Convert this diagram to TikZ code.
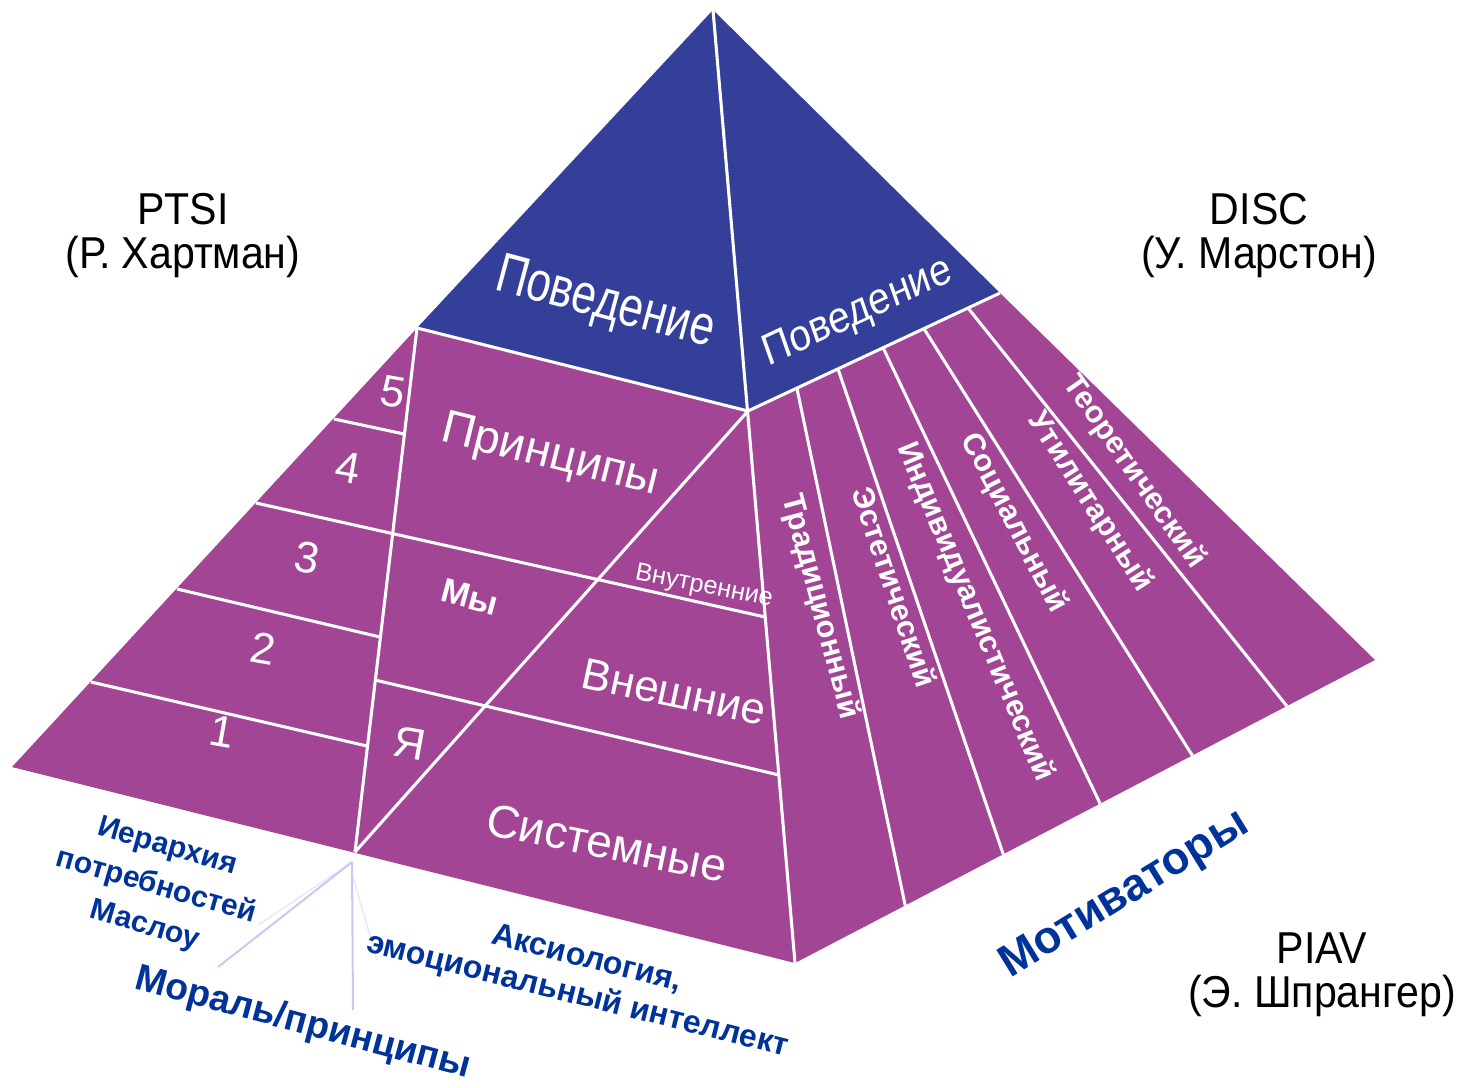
\documentclass[tikz,border=0pt]{standalone}
\usepackage{fontspec}
\setmainfont{Liberation Sans}
\usetikzlibrary{calc}
\definecolor{face}{HTML}{A34595}
\definecolor{topblue}{HTML}{333F99}
\definecolor{ink}{HTML}{003399}
\definecolor{guide}{HTML}{C8C8F2}

\begin{document}
\begin{tikzpicture}[x=0.75pt,y=-0.75pt,
  seam/.style={draw=white, line width=2.3pt},
  wlabel/.style={text=white, inner sep=0pt},
  blabel/.style={text=ink, inner sep=0pt},
  author/.style={inner sep=0pt, align=center, font=\fontsize{33.5}{33}\selectfont, xscale=0.92},
  strip/.style={wlabel, font=\fontsize{23}{23}\selectfont\bfseries},
  digit/.style={wlabel, font=\fontsize{33}{33}\selectfont, rotate=-10},
  guideline/.style={draw=guide, line width=1.5pt},
  faintline/.style={draw=guide!40, line width=1.2pt},
]
\useasboundingbox (0,0) rectangle (1464,1088);

% corners of the pyramid
\coordinate (A)  at (713,10);
\coordinate (P1) at (417,328);
\coordinate (C)  at (748,411);
\coordinate (P2) at (1000,293);
\coordinate (L)  at (12,767);
\coordinate (M)  at (355,852);
\coordinate (F)  at (795,963);
\coordinate (R)  at (1375,660);

% faces
\fill[face] (P1) -- (L) -- (F) -- (C) -- cycle;
\fill[face] (C) -- (F) -- (R) -- (P2) -- cycle;
\fill[topblue] (A) -- (P1) -- (C) -- cycle;
\fill[topblue] (A) -- (C) -- (P2) -- cycle;

% main seams
\draw[seam] (A) -- (F);
\draw[seam] (P1) -- (C) -- (P2);
\draw[seam] (P1) -- (M);
\draw[seam] (C) -- (M);

% level lines of the left strip
\coordinate (l5a) at (334,419);  \coordinate (l5b) at (404,434);
\coordinate (l4a) at (256,503);  \coordinate (l4b) at (765,617);
\coordinate (l3a) at (177,589);  \coordinate (l3b) at (380,637);
\coordinate (l2a) at (91,682);   \coordinate (l2b) at (367,746);
\coordinate (mya) at (375,680);  \coordinate (myb) at (779,775);
\draw[seam] (l5a) -- (l5b);
\draw[seam] (l4a) -- (l4b);
\draw[seam] (l3a) -- (l3b);
\draw[seam] (l2a) -- (l2b);
\draw[seam] (mya) -- (myb);

% motivator strips on the right face
\foreach \t/\b in {0.194/0.190, 0.357/0.359, 0.536/0.526, 0.698/0.685, 0.873/0.848}
  \draw[seam] ($(C)!\t!(P2)$) -- ($(F)!\b!(R)$);

% guide lines under the base
\coordinate (N)  at (352,862);
\coordinate (g1) at (218,967);
\coordinate (g2) at (353,1010);
\coordinate (g3) at (258,925);
\coordinate (g4) at (353,877);
\coordinate (g5) at (377,960);
\draw[faintline] (N) -- (g3);
\draw[faintline] (g4) -- (g5);
\draw[guideline] (N) -- (g1);
\draw[guideline] (N) -- (g2);

% labels on the faces
\node[wlabel, font=\fontsize{42}{42}\selectfont, rotate=-15, xscale=0.78] (beh1) at (605,305) {Поведение};
\node[wlabel, font=\fontsize{32.5}{32.5}\selectfont, rotate=25, xslant=0.1, xscale=0.92] (beh2) at (858,313) {Поведение};
\node[wlabel, font=\fontsize{35}{35}\selectfont, rotate=-14] (princ) at (550,457) {Принципы};
\node[wlabel, font=\fontsize{25.5}{25.5}\selectfont\bfseries, rotate=-15] (we) at (470,597) {Мы};
\node[wlabel, font=\fontsize{19}{19}\selectfont, rotate=-11] (inner) at (704,587) {Внутренние};
\node[wlabel, font=\fontsize{33}{33}\selectfont, rotate=-12] (outer) at (674,692) {Внешние};
\node[wlabel, font=\fontsize{34.5}{34.5}\selectfont, rotate=-11.5] (sys) at (607,843) {Системные};
\node[digit] (n5) at (393,392) {5};
\node[digit] (n4) at (348,468) {4};
\node[digit] (n3) at (307,558) {3};
\node[digit] (n2) at (263,648) {2};
\node[digit] (n1) at (222,732) {1};
\node[digit] (self) at (410,743) {Я};

\node[strip, rotate=-75]   (m1) at (820,607)  {Традиционный};
\node[strip, rotate=-71.7] (m2) at (895,587)  {Эстетический};
\node[strip, rotate=-67.4] (m3) at (975,612)  {Индивидуалистический};
\node[strip, rotate=-62.4] (m4) at (1014,523) {Социальный};
\node[strip, rotate=-57.4] (m5) at (1090,502) {Утилитарный};
\node[strip, rotate=-55.2] (m6) at (1134,472) {Теоретический};

% captions around the pyramid
\node[blabel, font=\fontsize{34}{34}\selectfont\bfseries, rotate=31.5] (motiv) at (1125,895) {Мотиваторы};
\node[blabel, align=center, font=\fontsize{22.5}{30.75}\selectfont\bfseries, rotate=-16] (maslow) at (156,887) {Иерархия\\потребностей\\Маслоу};
\node[blabel, font=\fontsize{28}{28}\selectfont\bfseries, rotate=-15] (moral) at (303,1024) {Мораль/принципы};
\node[blabel, align=center, font=\fontsize{24}{28.5}\selectfont\bfseries, rotate=-14] (axio) at (582,978) {Аксиология,\\эмоциональный интеллект};

\node[author] (ptsi) at (183,236)  {PTSI\\(Р. Хартман)};
\node[author] (disc) at (1259,236) {DISC\\(У. Марстон)};
\node[author] (piav) at (1322,975) {PIAV\\(Э. Шпрангер)};
\end{tikzpicture}
\end{document}
